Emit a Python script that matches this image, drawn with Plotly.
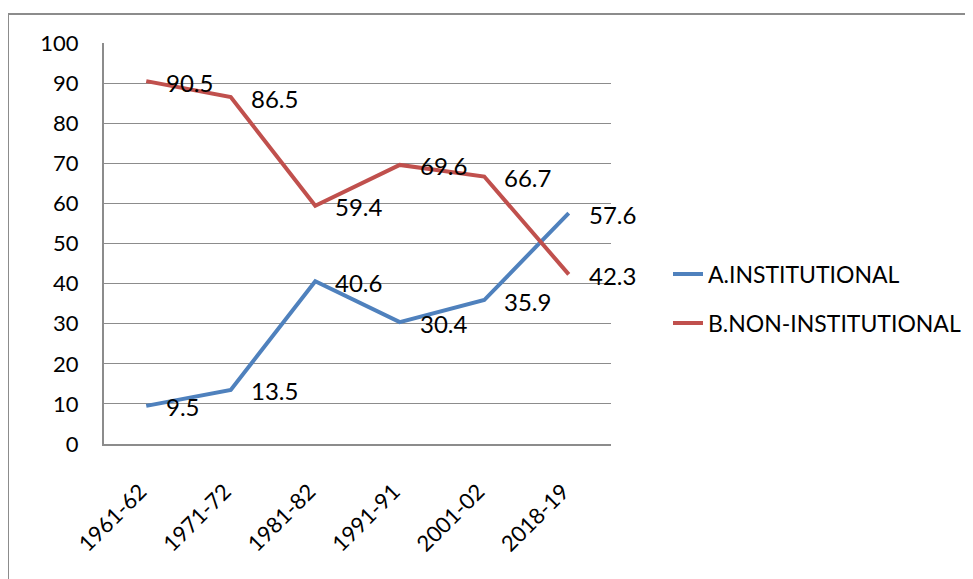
import plotly.graph_objects as go

categories = ["1961-62", "1971-72", "1981-82", "1991-91", "2001-02", "2018-19"]
institutional = [9.5, 13.5, 40.6, 30.4, 35.9, 57.6]
non_institutional = [90.5, 86.5, 59.4, 69.6, 66.7, 42.3]
y_ticks = [0, 10, 20, 30, 40, 50, 60, 70, 80, 90, 100]

FONT = "Lato, Carlito, Calibri, sans-serif"
BLUE = "#4F81BD"
RED = "#C0504D"
GRID = "#8c8c8c"

# page body has an 8px default margin; screen positions are offset by it
OFF = 8
W, H = 973, 579
L, T = 104 - OFF, 43 - OFF
R = W - (611 - OFF)
B = H - (444 - OFF)
pw, ph = W - L - R, H - T - B

fig = go.Figure()
fig.add_trace(go.Scatter(x=categories, y=institutional, mode="lines",
                         name="A.INSTITUTIONAL", line=dict(color=BLUE, width=4),
                         legend="legend"))
fig.add_trace(go.Scatter(x=categories, y=non_institutional, mode="lines",
                         name="B.NON-INSTITUTIONAL", line=dict(color=RED, width=4),
                         legend="legend2"))

annotations = []
for series in (institutional, non_institutional):
    for c, v in zip(categories, series):
        annotations.append(dict(x=c, y=v, text=f"{v}", showarrow=False,
                                xanchor="left", yanchor="middle", xshift=18, yshift=-1,
                                font=dict(family=FONT, size=24, color="black")))

def lx(px):
    return (px - OFF - L) / pw

def ly(py):
    return 1 - (py - OFF - T) / ph

fx0, fx1 = lx(8), lx(1010)
fy1, fy0 = ly(14), ly(620)

leg_common = dict(xanchor="left", yanchor="middle", bgcolor="rgba(0,0,0,0)",
                  font=dict(family=FONT, size=23, color="black"), itemwidth=30)

fig.update_layout(
    width=W, height=H,
    margin=dict(l=L, r=R, t=T, b=B, autoexpand=False),
    paper_bgcolor="white", plot_bgcolor="white",
    font=dict(family=FONT, size=22, color="black"),
    showlegend=True,
    legend=dict(x=lx(668), y=ly(274), **leg_common),
    legend2=dict(x=lx(668), y=ly(323), **leg_common),
    annotations=annotations,
    shapes=[dict(type="rect", xref="paper", yref="paper", x0=fx0, x1=fx1, y0=fy0, y1=fy1,
                 line=dict(color=GRID, width=2), layer="below")],
    xaxis=dict(type="category", showgrid=False, showline=True, linecolor=GRID,
               linewidth=2, tickangle=-45, ticks="", ticklabelstandoff=24,
               ticklabelshift=-6,
               tickfont=dict(family=FONT, size=22), zeroline=False,
               range=[-0.5, 5.5], automargin=False),
    yaxis=dict(range=[0, 100], tickvals=y_ticks, showgrid=True, gridcolor=GRID,
               gridwidth=1, showline=True, linecolor=GRID, linewidth=2,
               ticks="", ticklabelstandoff=19, tickfont=dict(family=FONT, size=22),
               zeroline=False, automargin=False),
)

fig.write_html("out.html")
